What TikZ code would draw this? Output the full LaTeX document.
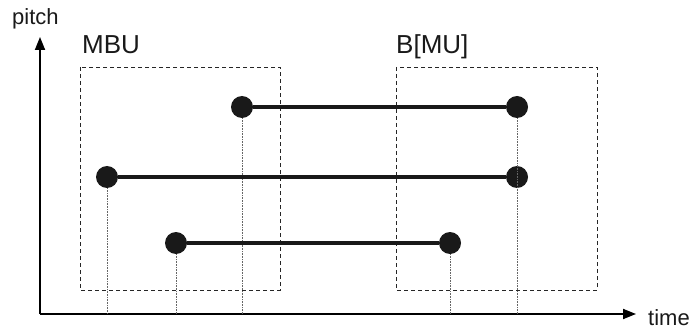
\documentclass[tikz,border=0pt]{standalone}
\usepackage{fontspec}
\setmainfont{Liberation Sans}
\usetikzlibrary{arrows.meta}
\begin{document}
\begin{tikzpicture}[x=1pt,y=-1pt,
  axis/.style={line width=1.8pt,-{Triangle[length=13pt,width=10pt]}},
  group/.style={draw=black!85,dash pattern=on 4pt off 3pt,line width=0.9pt},
  note/.style={circle,fill=black!90,inner sep=0pt,minimum size=22pt},
  noteline/.style={line width=3.2pt,black!90},
  guide/.style={black!60,densely dotted,line width=0.6pt},
  lbl/.style={inner sep=0pt,anchor=base west,text=black!90}]
\useasboundingbox (0,0) rectangle (698,331);
\coordinate (O) at (40,314);
\coordinate (ytip) at (40,37);
\coordinate (xtip) at (636,314);
\draw[axis] (O) -- (ytip);
\draw[axis] (O) -- (xtip);
\node[lbl,font=\fontsize{22}{22}\selectfont] (pitch) at (12,25) {pitch};
\node[lbl,font=\fontsize{22}{22}\selectfont] (time) at (648,325) {time};
\draw[group] (80,67) rectangle (280,290);
\draw[group] (396,67) rectangle (597,290);
\node[lbl,font=\fontsize{26}{26}\selectfont] (mbu) at (82,54) {MBU};
\node[lbl,font=\fontsize{26}{26}\selectfont] (bmu) at (396,54) {B[MU]};
\node[note] (a1) at (242,107) {};
\node[note] (a2) at (517,107) {};
\node[note] (b1) at (107,177) {};
\node[note] (b2) at (517,177) {};
\node[note] (c1) at (176,243) {};
\node[note] (c2) at (450,243) {};
\coordinate (ga1) at (242,314);
\coordinate (ga2) at (517,314);
\coordinate (gb1) at (107,314);
\coordinate (gc1) at (176,314);
\coordinate (gc2) at (450,314);
\draw[guide] (a1) -- (ga1);
\draw[guide] (a2) -- (ga2);
\draw[guide] (b1) -- (gb1);
\draw[guide] (c1) -- (gc1);
\draw[guide] (c2) -- (gc2);
\draw[noteline] (a1) -- (a2);
\draw[noteline] (b1) -- (b2);
\draw[noteline] (c1) -- (c2);
\end{tikzpicture}
\end{document}
